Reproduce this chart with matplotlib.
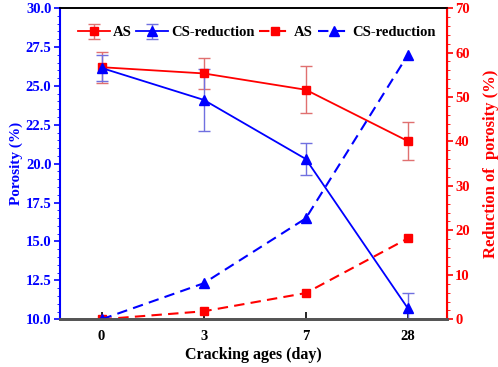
import numpy as np
import matplotlib.pyplot as plt
from matplotlib.ticker import MultipleLocator

plt.rcParams['font.family'] = ['Liberation Serif', 'DejaVu Serif']
plt.rcParams['font.weight'] = 'bold'

# --- data ---
ages = ['0', '3', '7', '28']
as_por = [26.2, 25.8, 24.75, 21.45]
as_por_err = [1.0, 1.0, 1.5, 1.2]
cs_por = [26.15, 24.1, 20.3, 10.7]
cs_por_err = [0.85, 2.0, 1.0, 1.0]
as_red = [0.0, 1.8, 5.9, 18.2]
cs_red = [0.0, 8.1, 22.7, 59.5]

RED = '#ff0000'
BLUE = '#0000ff'

x = np.arange(len(ages))

fig = plt.figure(figsize=(4.98, 3.67), dpi=100)
ax = fig.add_axes([0.12, 0.13, 0.777, 0.848])
ax2 = ax.twinx()

ax.errorbar(x, as_por, yerr=as_por_err, color=RED, marker='s', ms=6, lw=1.3,
            ecolor='#e07070', elinewidth=1, capsize=4, label='AS')
ax.errorbar(x, cs_por, yerr=cs_por_err, color=BLUE, marker='^', ms=7, lw=1.3,
            ecolor='#7070e0', elinewidth=1, capsize=4, label='CS-reduction')
ax2.plot(x, as_red, color=RED, marker='s', ms=6, lw=1.5, ls=(0, (5, 3)), label='AS')
ax2.plot(x, cs_red, color=BLUE, marker='^', ms=7, lw=1.5, ls=(0, (5, 3)), label='CS-reduction')

ax.set_xlim(-0.41, 3.38)
ax.set_ylim(10, 30)
ax2.set_ylim(0, 70)
ax.set_xticks(x)
ax.set_xticklabels(ages)

ax.yaxis.set_major_locator(MultipleLocator(2.5))
ax.yaxis.set_minor_locator(MultipleLocator(0.5))
ax.yaxis.set_major_formatter(plt.FormatStrFormatter('%.1f'))
ax2.yaxis.set_major_locator(MultipleLocator(10))
ax2.yaxis.set_minor_locator(MultipleLocator(2))

ax.set_xlabel('Cracking ages (day)', fontsize=11.5, fontweight='bold')
ax.set_ylabel('Porosity (%)', fontsize=11, fontweight='bold', color=BLUE)
ax2.set_ylabel('Reduction of  porosity (%)', fontsize=12, fontweight='bold', color=RED)
ax.xaxis.set_label_coords(0.5, -0.088)
ax.yaxis.set_label_coords(-0.095, 0.5)
ax2.yaxis.set_label_coords(1.093, 0.5)

ax.tick_params(axis='y', colors=BLUE, labelsize=10.5, length=4, width=1.2, pad=2)
ax.tick_params(axis='y', which='minor', colors=BLUE, length=2.5)
ax.tick_params(axis='x', direction='in', labelsize=10.5, length=5, width=1.2,
               colors='black', pad=8)
ax2.tick_params(axis='y', colors=RED, labelsize=10.5, length=4, width=1.2, pad=2)
ax2.tick_params(axis='y', which='minor', colors=RED, length=2.5)

ax.spines['left'].set_color(BLUE)
ax.spines['left'].set_linewidth(1.5)
ax2.spines['left'].set_visible(False)
ax2.spines['right'].set_color(RED)
ax2.spines['right'].set_linewidth(1.5)
for a in (ax, ax2):
    a.spines['bottom'].set_color('#555555')
    a.spines['bottom'].set_linewidth(2)
    a.spines['top'].set_linewidth(1.2)

h1, l1 = ax.get_legend_handles_labels()
h2, l2 = ax2.get_legend_handles_labels()
ax2.legend(h1 + h2, l1 + l2, loc='upper center', bbox_to_anchor=(0.51, 0.97), ncol=4,
           frameon=False, fontsize=10.5, handlelength=2.2, handletextpad=0.2,
           columnspacing=0.3, borderaxespad=0.2)

fig.savefig('out.png', dpi=100)
